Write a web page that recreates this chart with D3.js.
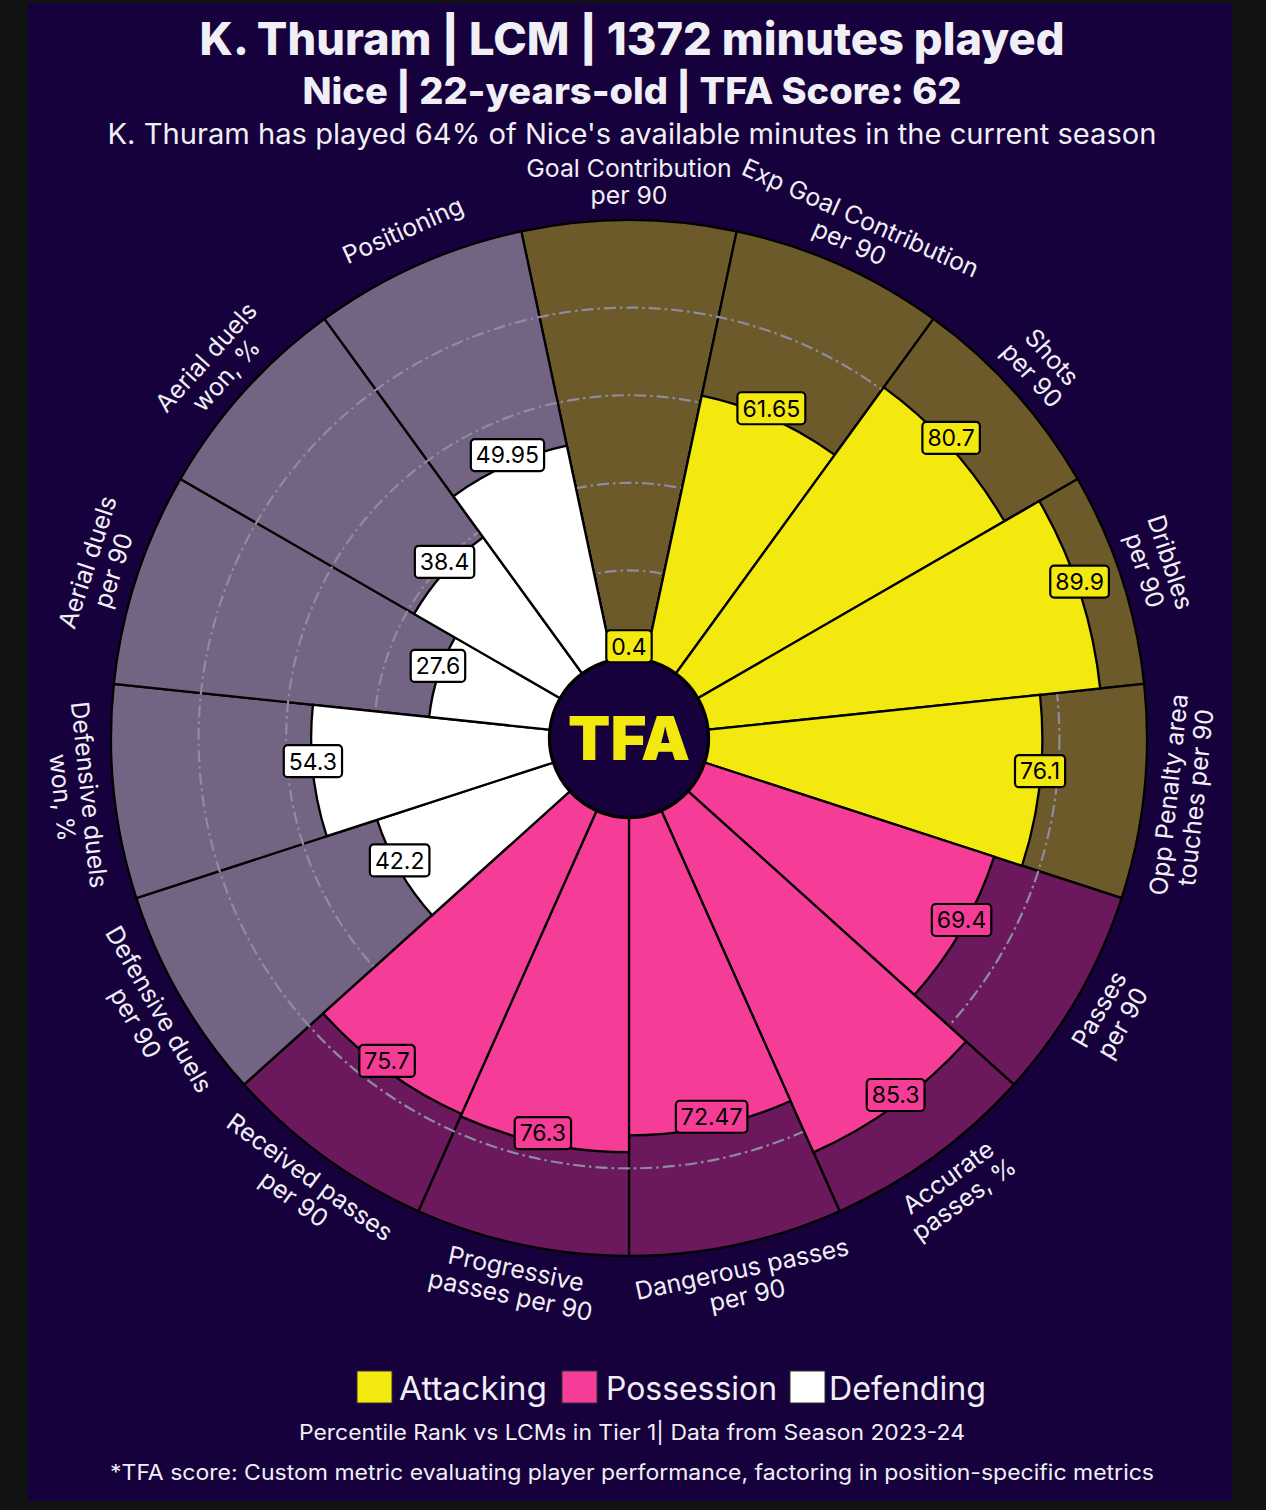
<!DOCTYPE html>
<html>
<head>
<meta charset="utf-8">
<script src="https://cdn.jsdelivr.net/npm/d3@7"></script>
<style>
  html, body { margin: 0; padding: 0; background: #111214; }
  svg { display: block; }
  text { font-family: Inter, "Noto Sans", sans-serif; }
</style>
</head>
<body>
<div id="chart"></div>
<script>
// ---------- DATA ----------
const metrics = [
  "Goal Contribution\nper 90",
  "Exp Goal Contribution\nper 90",
  "Shots\nper 90",
  "Dribbles\nper 90",
  "Opp Penalty area\ntouches per 90",
  "Passes\nper 90",
  "Accurate\npasses, %",
  "Dangerous passes\nper 90",
  "Progressive\npasses per 90",
  "Received passes\nper 90",
  "Defensive duels\nper 90",
  "Defensive duels\nwon, %",
  "Aerial duels\nper 90",
  "Aerial duels\nwon, %",
  "Positioning"
];
const values = [0.4, 61.65, 80.7, 89.9, 76.1, 69.4, 85.3, 72.47, 76.3, 75.7, 42.2, 54.3, 27.6, 38.4, 49.95];
const groups = ["Attacking","Attacking","Attacking","Attacking","Attacking",
                "Possession","Possession","Possession","Possession","Possession",
                "Defending","Defending","Defending","Defending","Defending"];
const groupNames = ["Attacking", "Possession", "Defending"];
const gridTicks = [20, 40, 60, 80];

const titleText = "K. Thuram | LCM | 1372 minutes played";
const subtitleText = "Nice | 22-years-old | TFA Score: 62";
const infoText = "K. Thuram has played 64% of Nice's available minutes in the current season";
const footer1 = "Percentile Rank vs LCMs in Tier 1| Data from Season 2023-24";
const footer2 = "*TFA score: Custom metric evaluating player performance, factoring in position-specific metrics";

// ---------- STYLE ----------
const W = 1266, H = 1510;
const cx = 629, cy = 738;
const r0 = 80, R = 518;
const barColor = d3.scaleOrdinal().domain(groupNames).range(["#f3e90f", "#f53c97", "#ffffff"]);
const bgColor  = d3.scaleOrdinal().domain(groupNames).range(["#6d5a2a", "#6b185c", "#736483"]);
const figBg = "#17013d";
const textCol = "#f1eff6";

const svg = d3.select("#chart").append("svg").attr("width", W).attr("height", H);
svg.append("rect").attr("width", W).attr("height", H).attr("fill", "#111214");
svg.append("rect").attr("x", 28).attr("y", 3).attr("width", 1204).attr("height", 1498).attr("fill", figBg);

// ---------- TITLES ----------
function fitText(sel, len) { sel.attr("textLength", len).attr("lengthAdjust", "spacingAndGlyphs"); return sel; }
fitText(svg.append("text").attr("x", 632).attr("y", 55).attr("text-anchor", "middle")
  .attr("font-size", 45).attr("font-weight", 800).attr("fill", textCol).text(titleText), 865);
fitText(svg.append("text").attr("x", 632).attr("y", 104).attr("text-anchor", "middle")
  .attr("font-size", 37).attr("font-weight", 800).attr("fill", textCol).text(subtitleText), 659);
fitText(svg.append("text").attr("x", 632).attr("y", 144).attr("text-anchor", "middle")
  .attr("font-size", 28).attr("font-weight", 400).attr("fill", textCol).text(infoText), 1049);

// ---------- PIZZA ----------
const n = metrics.length;
const step = 2 * Math.PI / n;
const rScale = d3.scaleLinear().domain([0, 100]).range([r0, R]);
const g = svg.append("g").attr("transform", `translate(${cx},${cy})`);

const data = metrics.map((m, i) => ({ m, v: values[i], grp: groups[i], i, a: i * step }));

const arc = d3.arc();
// background slices
g.selectAll("path.bg").data(data).join("path").attr("class", "bg")
  .attr("d", d => arc({ innerRadius: r0, outerRadius: rScale(100), startAngle: d.a - step / 2, endAngle: d.a + step / 2 }))
  .attr("fill", d => bgColor(d.grp)).attr("stroke", "#000").attr("stroke-width", 2.3);

// grid circles
g.selectAll("circle.grid").data(gridTicks).join("circle").attr("class", "grid")
  .attr("r", d => rScale(d)).attr("fill", "none").attr("stroke", "#8e8c9e")
  .attr("stroke-width", 2.2).attr("stroke-dasharray", "12,4,2.5,4");

// value bars
g.selectAll("path.bar").data(data).join("path").attr("class", "bar")
  .attr("d", d => arc({ innerRadius: r0, outerRadius: rScale(d.v), startAngle: d.a - step / 2, endAngle: d.a + step / 2 }))
  .attr("fill", d => barColor(d.grp)).attr("stroke", "#000").attr("stroke-width", 2.3);

// center disc
g.append("circle").attr("r", 79).attr("fill", figBg).attr("stroke", "#000").attr("stroke-width", 2.3);
fitText(g.append("text").attr("x", 0).attr("y", 0).attr("dy", "0.36em").attr("text-anchor", "middle")
  .attr("font-size", 60).attr("font-weight", 900).attr("fill", "#f3e90f").text("TFA"), 122);

// value labels
data.forEach(d => {
  const rr = rScale(d.v);
  const x = rr * Math.sin(d.a), y = -rr * Math.cos(d.a) - 10;
  const lg = g.append("g").attr("transform", `translate(${x},${y})`);
  const t = lg.append("text").attr("text-anchor", "middle").attr("dy", "0.36em")
    .attr("font-size", 23).attr("fill", "#000").text(String(d.v));
  const bb = t.node().getBBox();
  lg.insert("rect", "text").attr("x", bb.x - 5).attr("y", -16).attr("width", bb.width + 10).attr("height", 32)
    .attr("rx", 4).attr("fill", barColor(d.grp)).attr("stroke", "#000").attr("stroke-width", 2.2);
});

// category labels
const rl = 556;
data.forEach(d => {
  const deg = d.a * 180 / Math.PI;
  const x = rl * Math.sin(d.a), y = -rl * Math.cos(d.a);
  const rot = (deg <= 90 || deg >= 270) ? deg : deg - 180;
  const lines = d.m.split("\n");
  const lh = 27;
  const t = g.append("text").attr("transform", `translate(${x},${y}) rotate(${rot})`)
    .attr("text-anchor", "middle").attr("font-size", 24.8).attr("fill", textCol);
  lines.forEach((ln, k) => {
    t.append("tspan").attr("x", 0).attr("y", (k - (lines.length - 1) / 2) * lh).attr("dy", "0.36em").text(ln);
  });
});

// ---------- LEGEND ----------
const legendX = [357, 562, 790];
const legendTextX = [399, 606, 829];
const legendLen = [148, 171, 157];
groupNames.forEach((gname, k) => {
  svg.append("rect").attr("x", legendX[k]).attr("y", 1371).attr("width", 35).attr("height", 32)
    .attr("fill", barColor(gname)).attr("stroke", "#333").attr("stroke-width", 1);
  fitText(svg.append("text").attr("x", legendTextX[k]).attr("y", 1400).attr("font-size", 32)
    .attr("fill", textCol).text(gname), legendLen[k]);
});

fitText(svg.append("text").attr("x", 632).attr("y", 1440).attr("text-anchor", "middle")
  .attr("font-size", 21).attr("fill", textCol).text(footer1), 666);
fitText(svg.append("text").attr("x", 632).attr("y", 1480).attr("text-anchor", "middle")
  .attr("font-size", 21).attr("fill", textCol).text(footer2), 1044);
</script>
</body>
</html>
